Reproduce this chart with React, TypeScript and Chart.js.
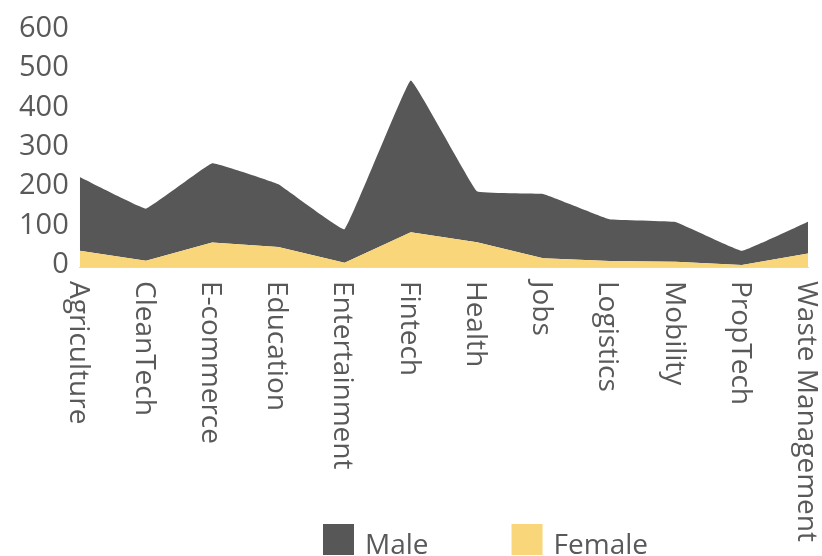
import React, { useEffect, useRef } from "react";
import { Chart, registerables } from "chart.js";

Chart.register(...registerables);

// Startup founders per sector, split by gender
const sectors = [
  "Agriculture",
  "CleanTech",
  "E-commerce",
  "Education",
  "Entertainment",
  "Fintech",
  "Health",
  "Jobs",
  "Logistics",
  "Mobility",
  "PropTech",
  "Waste Management",
];
const maleCounts = [187, 132, 201, 159, 85, 385, 129, 163, 106, 101, 36, 81];
const femaleCounts = [36, 11, 57, 46, 6, 83, 58, 17, 10, 8, 0, 29];
const yTickValues = [0, 100, 200, 300, 400, 500, 600];

const seriesNames = { male: "Male", female: "Female" };
const maleColor = "#575757";
const femaleColor = "#FAD67A";
const textColor = "#595959";
const fontFamily = "'Open Sans', sans-serif";

// Vertical category labels, reading top to bottom under each point
const sectorLabelsPlugin = {
  id: "sectorLabels",
  afterDraw(chart: any) {
    const { ctx, chartArea } = chart;
    const xScale = chart.scales.x;
    const size = 28;
    ctx.save();
    ctx.font = `400 ${size}px ${fontFamily}`;
    ctx.fillStyle = textColor;
    ctx.textAlign = "left";
    ctx.textBaseline = "alphabetic";
    (chart.data.labels as string[]).forEach((label, i) => {
      const x = xScale.getPixelForTick(i);
      ctx.save();
      ctx.translate(x, chartArea.bottom + 14);
      ctx.rotate(Math.PI / 2);
      ctx.fillText(label, 0, size * 0.36);
      ctx.restore();
    });
    ctx.restore();
  },
};

// Legend row at the foot of the canvas, Male first
const footLegendPlugin = {
  id: "footLegend",
  afterDraw(chart: any) {
    const { ctx } = chart;
    const box = 31;
    const top = 524;
    const textGap = 11;
    const itemGap = 83;
    let x = 323;
    ctx.save();
    ctx.font = `400 28px ${fontFamily}`;
    ctx.textAlign = "left";
    ctx.textBaseline = "alphabetic";
    const items = [...chart.data.datasets].reverse();
    items.forEach((ds: any) => {
      ctx.fillStyle = ds.backgroundColor;
      ctx.fillRect(x, top, box, box);
      ctx.fillStyle = textColor;
      const tx = x + box + textGap;
      ctx.fillText(ds.label, tx, top + 30);
      x = tx + ctx.measureText(ds.label).width + itemGap;
    });
    ctx.restore();
  },
};

export default function App() {
  const canvasRef = useRef<HTMLCanvasElement | null>(null);

  useEffect(() => {
    if (!canvasRef.current) return;
    const chart = new Chart(canvasRef.current, {
      type: "line",
      data: {
        labels: sectors,
        datasets: [
          {
            label: seriesNames.female,
            data: femaleCounts,
            backgroundColor: femaleColor,
            borderColor: femaleColor,
            borderWidth: 0,
            pointRadius: 0,
            fill: "start",
            tension: 0,
          },
          {
            label: seriesNames.male,
            data: maleCounts,
            backgroundColor: maleColor,
            borderColor: maleColor,
            borderWidth: 0,
            pointRadius: 0,
            fill: "-1",
            tension: 0.06,
          },
        ],
      },
      options: {
        animation: false,
        responsive: true,
        maintainAspectRatio: false,
        layout: { padding: { left: 8, right: 14, top: 27, bottom: 289 } },
        plugins: {
          legend: { display: false },
          tooltip: { enabled: false },
        },
        scales: {
          x: {
            offset: false,
            grid: { display: false, drawTicks: false },
            border: { display: true, color: "#d9d9d9", width: 1 },
            ticks: { display: false },
          },
          y: {
            stacked: true,
            min: -5,
            max: yTickValues[yTickValues.length - 1],
            grid: { display: false, drawTicks: false },
            border: { display: false },
            afterBuildTicks: (axis: any) => {
              axis.ticks = yTickValues.map((value) => ({ value }));
            },
            ticks: {
              padding: 11,
              color: textColor,
              font: { family: fontFamily, size: 29, weight: 400 as any },
            },
          },
        },
      },
      plugins: [sectorLabelsPlugin, footLegendPlugin],
    });
    return () => chart.destroy();
  }, []);

  return (
    <div
      style={{
        position: "fixed",
        left: 0,
        top: 0,
        width: 822,
        height: 556,
        overflow: "hidden",
        background: "#ffffff",
      }}
    >
      <canvas ref={canvasRef} />
    </div>
  );
}
